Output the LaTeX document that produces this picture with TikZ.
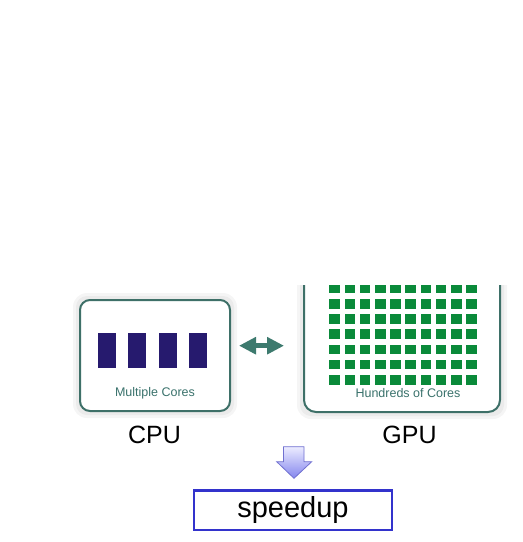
\documentclass[tikz,border=0pt]{standalone}
\usepackage{fontspec}
\setmainfont{Liberation Sans}
\usetikzlibrary{arrows.meta}
\definecolor{frameC}{HTML}{3E7068}
\definecolor{labelC}{HTML}{3A726C}
\definecolor{coreC}{HTML}{261A6E}
\definecolor{gcoreC}{HTML}{0A8A3A}
\definecolor{arrowC}{HTML}{3D7A6E}
\definecolor{boxC}{HTML}{3333CC}
\definecolor{downTop}{HTML}{ECECFF}
\definecolor{downBot}{HTML}{8486EE}
\definecolor{downLine}{HTML}{7070D0}
\tikzset{
  chipframe/.style={draw=frameC, line width=2pt, rounded corners=10pt, fill=white},
  glowA/.style={fill=black!4, rounded corners=14pt},
  glowB/.style={fill=black!8, rounded corners=11pt},
  cpucore/.style={fill=coreC},
  gpucore/.style={fill=gcoreC},
  smalllabel/.style={text=labelC, font=\fontsize{12.5}{14}\selectfont, inner sep=0pt},
  biglabel/.style={text=black, font=\fontsize{25}{28}\selectfont, inner sep=0pt},
  resultbox/.style={draw=boxC, line width=2.5pt, minimum width=198pt, minimum height=39.5pt, inner sep=0pt, font=\fontsize{29}{31}\selectfont},
}
\begin{document}
\begin{tikzpicture}[x=1pt,y=-1pt]
\useasboundingbox (0,0) rectangle (523,542);
\begin{scope}
\clip (0,285.5) rectangle (523,542);
% glows
\fill[glowA] (73,293) rectangle (237,418);
\fill[glowB] (76,296) rectangle (234,415);
\fill[glowA] (297,240) rectangle (507,419);
\fill[glowB] (300,240) rectangle (504,416);
% frames
\node[chipframe, minimum width=150pt, minimum height=111pt] (cpu) at (155,355.5) {};
\node[chipframe, minimum width=196pt, minimum height=170pt, rounded corners=12pt] (gpu) at (402,327) {};
% cpu cores
\foreach \i in {0,...,3} {
  \fill[cpucore] (98+30.3*\i,333) rectangle +(18,35);
}
% gpu cores
\foreach \i in {0,...,9} {
  \foreach \j in {0,...,7} {
    \fill[gpucore] (329.3+15.2*\i,268.6+15.2*\j) rectangle +(10.7,9.5);
  }
}
\end{scope}
% inner labels
\node[smalllabel] (mc) at (155,393.5) {Multiple Cores};
\node[smalllabel] (hc) at (408,393.5) {Hundreds of Cores};
% chip names
\node[biglabel, anchor=base] (cpul) at (154.5,443) {CPU};
\node[biglabel, anchor=base] (gpul) at (409.5,443) {GPU};
% double arrow
\coordinate (al) at (239,345.7);
\coordinate (ar) at (284,345.7);
\draw[arrowC, line width=5pt, {Triangle[length=17pt,width=16.5pt]}-{Triangle[length=17pt,width=16.5pt]}] (al) -- (ar);
% speedup box
\node[resultbox] (sp) at (293,510) {speedup};
% down block arrow
\shade[top color=downTop, bottom color=downBot, draw=downLine, line width=0.8pt]
  (283.5,446.7) -- (304,446.7) -- (304,461.7) -- (311.7,461.7) -- (294,478.3)
  -- (276.7,461.7) -- (283.5,461.7) -- cycle;
\end{tikzpicture}
\end{document}
